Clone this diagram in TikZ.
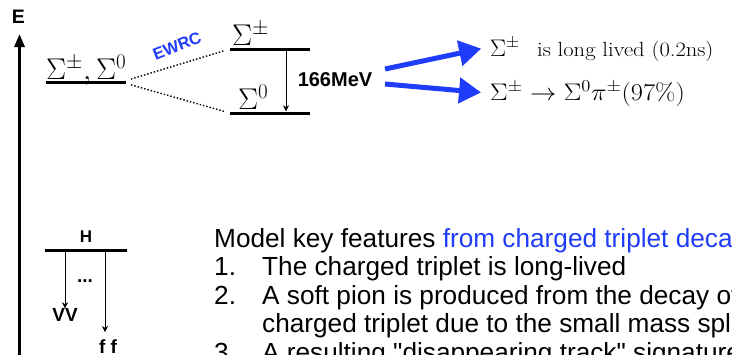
\RequirePackage{fix-cm}
\documentclass[tikz,border=0pt]{standalone}
\usepackage{fontspec}
\setsansfont{Liberation Sans}[Ligatures=TeXOff]
\usetikzlibrary{arrows.meta, positioning}
\definecolor{ewblue}{RGB}{30,60,250}

\begin{document}
\begin{tikzpicture}[
      x=1pt, y=-1pt,
      lvl/.style={rectangle, fill=black, inner sep=0pt,
                  minimum width=80pt, minimum height=3pt},
      sig/.style={inner sep=0pt, anchor=base west,
                  font=\fontsize{30}{32}\selectfont},
      res/.style={inner sep=0pt, anchor=base west,
                  font=\fontsize{24}{26}\selectfont},
      lab/.style={inner sep=0pt, font=\fontsize{19}{21}\selectfont\sffamily\bfseries},
      tag/.style={lab, font=\fontsize{17}{19}\selectfont\sffamily\bfseries},
      txt/.style={inner sep=0pt, anchor=base west,
                  font=\fontsize{26.2}{28}\selectfont\sffamily},
      arr/.style={-{Stealth[length=6pt, width=6pt]}, semithick},
      big/.style={-{Triangle[length=22pt, width=25pt]}, line width=5pt, ewblue},
      dots/.style={dotted, line width=1.4pt}
    ]
    \useasboundingbox (0,0) rectangle (732,354);

    % Energy axis
    \node[tag, font=\fontsize{19.5}{21}\selectfont\sffamily\bfseries] (E) at (18.5,17) {E};
    \coordinate (axbot) at (19.5,360);
    \coordinate (axtop) at (19.5,34);
    \draw[-{Triangle[length=13pt, width=10pt]}, line width=3pt] (axbot) -- (axtop);

    % Levels: degenerate and split
    \node[lvl] (lsplit) at (86,82.5) {};
    \node[lvl] (lpm) at (270,49) {};
    \node[lvl] (lzero) at (270,113) {};
    \node[sig] (tsplit) at (46,79) {$\Sigma^\pm,\Sigma^0$};
    \node[sig] (tpm) at (232,45) {$\Sigma^\pm$};
    \node[sig] (tzero) at (238,109) {$\Sigma^0$};

    \draw[dots, shorten <=5pt, shorten >=6pt] ([yshift=2pt]lsplit.east) -- (lpm.west);
    \draw[dots, shorten <=5pt, shorten >=6pt] ([yshift=-1pt]lsplit.east) -- (lzero.west);
    \node[lab, font=\fontsize{16.5}{19}\selectfont\sffamily\bfseries, text=ewblue,
          rotate=21] (ewrc) at (177,46) {EWRC};

    \draw[arr] ([xshift=16pt]lpm.south) -- ([xshift=16pt]lzero.north);
    \node[lab, font=\fontsize{20}{22}\selectfont\sffamily\bfseries] (mev) at (335,80) {166MeV};

    % Results
    \node[res] (r1) at (490,56) {$\Sigma^\pm$};
    \node[res, right=17pt of r1.base east, anchor=base west, xscale=1.1,
          font=\fontsize{20.5}{22}\selectfont] (r1b) {is long lived (0.2ns)};
    \node[res, xscale=1.1] (r2) at (490,100) {$\Sigma^\pm\rightarrow\Sigma^0\pi^\pm(97\%)$};
    \coordinate (b1) at (385,69);
    \coordinate (b2) at (385,84);
    \draw[big, shorten >=9pt] (b1) -- (r1.west);
    \draw[big, shorten >=9pt] (b2) -- (r2.west);

    % Higgs decay sketch
    \node[lvl, minimum width=82pt] (lh) at (86,250) {};
    \node[tag] (h) at (86,237) {H};
    \node[lab] (vv) at (65,315) {VV};
    \node[lab] (ff) at (108,347) {f f};
    \node[lab] (etc) at (85,281) {...};
    \draw[arr] (lh.south -| vv.north) -- (vv.north);
    \draw[arr] (lh.south -| 105,0) -- (105,332);

    % Key features text
    \node[txt] (l1) at (214,247) {Model key features \textcolor{ewblue}{from charged triplet decay}};
    \node[txt] (n1) at (214,275.5) {1.};
    \node[txt] (t1) at (262,275.5) {The charged triplet is long-lived};
    \node[txt] (n2) at (214,304) {2.};
    \node[txt] (t2) at (262,304) {A soft pion is produced from the decay of the};
    \node[txt] (t2b) at (262,332.5) {charged triplet due to the small mass splitting};
    \node[txt] (n3) at (214,361) {3.};
    \node[txt] (t3) at (262,361) {A resulting "disappearing track" signature};
  \end{tikzpicture}
\end{document}
